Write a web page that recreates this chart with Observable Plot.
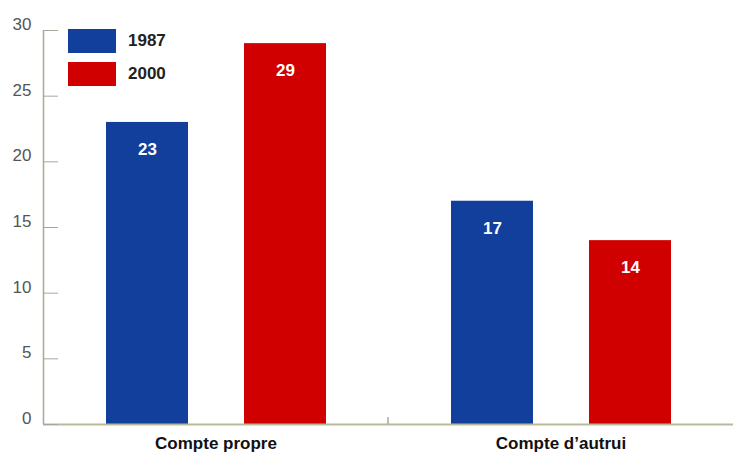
<!DOCTYPE html>
<html><head><meta charset="utf-8">
<script src="https://cdn.jsdelivr.net/npm/d3@7"></script>
<script src="https://cdn.jsdelivr.net/npm/@observablehq/plot@0.6"></script>
<style>
body{margin:0;background:#fff;}
#wrap{position:relative;width:733px;height:457px;}
#legend{position:absolute;left:68px;top:29px;font-family:"Liberation Sans",Arial,sans-serif;font-weight:bold;font-size:17px;color:#222;}
.item{display:flex;align-items:center;height:24px;margin-bottom:9px;}
.sw{width:48px;height:24px;margin-right:12px;}
</style></head>
<body><div id="wrap"><div id="legend"></div></div>
<script>
const categories = ["Compte propre", "Compte d’autrui"];
const years = ["1987", "2000"];
const values1987 = [23, 17];
const values2000 = [29, 14];
const colors = ["#123f9b", "#d00000"];
const yTicks = [0, 5, 10, 15, 20, 25, 30];

const data = [];
categories.forEach((c, i) => {
  data.push({cat: c, year: years[0], value: values1987[i]});
  data.push({cat: c, year: years[1], value: values2000[i]});
});

const chart = Plot.plot({
  width: 733, height: 457,
  marginLeft: 43, marginRight: 0, marginTop: 30, marginBottom: 33,
  style: {background: "#fff", fontFamily: "'Liberation Sans', Arial, sans-serif"},
  fx: {domain: categories, paddingInner: 0, paddingOuter: 0, label: null},
  x: {domain: years, paddingInner: 0.406, paddingOuter: 0.453, axis: null},
  y: {domain: [0, 30], label: null},
  color: {domain: years, range: colors},
  marks: [
    Plot.barY(data, {fx: "cat", x: "year", y: "value", fill: "year"}),
    Plot.text(data, {fx: "cat", x: "year", y: "value", text: d => String(d.value), dy: 27, fill: "#fff", fontWeight: "bold", fontSize: 17}),
    Plot.ruleY([0], {stroke: "#b9b99c", strokeWidth: 2}),
    Plot.axisY(yTicks, {anchor: "left", tickSize: 0, tickPadding: 12, fill: "#555", fontSize: 17, dy: -6, label: null}),
    Plot.axisY(yTicks, {anchor: "left", tickSize: 15, dx: 15, tickFormat: () => "", stroke: "#a8a89a", label: null}),
    Plot.axisFx({anchor: "bottom", tickSize: 0, tickPadding: 12, fontSize: 17, fontWeight: "bold", fill: "#111", label: null})
  ]
});
document.getElementById("wrap").appendChild(chart);

// axis line and facet divider tick, positioned from the chart's scales
const ys = chart.scale("y"), fxs = chart.scale("fx");
const svg = d3.select(chart);
svg.append("line").attr("x1", 43.5).attr("x2", 43.5)
  .attr("y1", ys.apply(30)).attr("y2", ys.apply(0))
  .attr("stroke", "#a8a89a").attr("stroke-width", 1.5);
const xd = fxs.apply(categories[1]);
svg.append("line").attr("x1", xd).attr("x2", xd)
  .attr("y1", ys.apply(0)).attr("y2", ys.apply(0) - 7)
  .attr("stroke", "#a8a89a").attr("stroke-width", 1.5);
svg.selectAll("[aria-label='fx-axis tick-label'] text")
  .style("font-family", "'Liberation Sans Narrow', 'DejaVu Sans Condensed', Arial, sans-serif")
  .style("font-stretch", "condensed")
  .style("letter-spacing", "1.5px").style("word-spacing", "5px");

const lg = document.getElementById("legend");
years.forEach((y, i) => {
  const it = document.createElement("div"); it.className = "item";
  const sw = document.createElement("div"); sw.className = "sw"; sw.style.background = colors[i];
  const t = document.createElement("span"); t.textContent = y;
  it.appendChild(sw); it.appendChild(t); lg.appendChild(it);
});
</script></body></html>
